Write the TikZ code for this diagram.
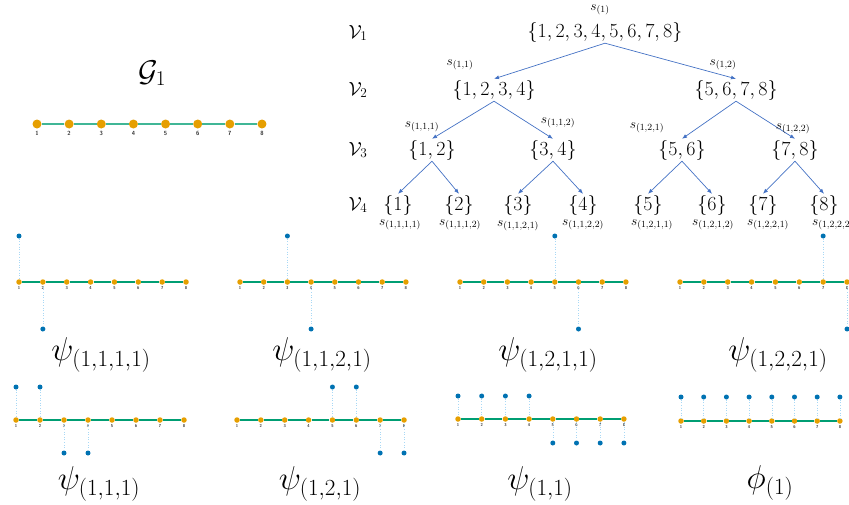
\documentclass[tikz,border=0pt]{standalone}
\usepackage{fix-cm}
\usepackage{amsmath,amssymb}
\usepackage{tikz}
\usetikzlibrary{arrows.meta, positioning}
\definecolor{graphorange}{HTML}{E69F00}
\definecolor{graphblue}{HTML}{0072B2}
\definecolor{graphgreen}{HTML}{009E73}
\definecolor{stemblue}{HTML}{A8D8F5}
\definecolor{treeblue}{HTML}{4472C4}
\tikzset{
  vert/.style={circle, fill=graphorange, inner sep=0pt, minimum size=5.5pt},
  bigvert/.style={circle, fill=graphorange, inner sep=0pt, minimum size=9pt},
  wave/.style={circle, fill=graphblue, inner sep=0pt, minimum size=5pt},
  vlabel/.style={font=\fontsize{4.2}{5}\selectfont\sffamily\bfseries, inner sep=0pt, text=black!80},
  bigvlabel/.style={font=\fontsize{6}{7}\selectfont\sffamily\bfseries, inner sep=0pt, text=black!80},
  gedge/.style={graphgreen, line width=1.2pt},
  bigedge/.style={graphgreen!75!white, line width=2.6pt},
  stem/.style={stemblue, dotted, line width=0.6pt},
  setnode/.style={font=\fontsize{20}{23}\selectfont, inner sep=1pt},
  slabel/.style={font=\fontsize{13.5}{15}\selectfont, inner sep=0pt},
  level/.style={font=\fontsize{19}{22}\selectfont, inner sep=0pt},
  wavelabel/.style={font=\fontsize{33}{37}\selectfont, inner sep=0pt},
  treearrow/.style={-{Latex[length=5pt,width=4pt]}, treeblue, line width=0.7pt}
}
% path graph on 8 vertices: name, first x, spacing, y
\newcommand{\pathgraph}[4]{%
  \foreach \i in {1,...,8} {
    \node[vert] (#1-\i) at ({#2+(\i-1)*#3},#4) {};
    \node[vlabel, below=1pt of #1-\i] (#1-t\i) {\i};
  }
  \foreach \i [count=\j from 2] in {1,...,7}
    \draw[gedge] (#1-\i) -- (#1-\j);
}
% one spike of a wavelet: panel, vertex, offset
\newcommand{\spike}[3]{%
  \path (#1-#2) ++(0,#3) node[wave] (#1-w#2) {};
  \draw[stem] (#1-w#2) -- (#1-#2);
}

\begin{document}
\begin{tikzpicture}[x=1pt, y=-1pt]
  \useasboundingbox (0,0) rectangle (849,504);

  % the graph
  \node[wavelabel, font=\fontsize{30}{34}\selectfont] (gtitle) at (152,73) {$\mathcal{G}_1$};
  \foreach \i in {1,...,8} {
    \node[bigvert] (g-\i) at ({37+(\i-1)*32.14},124) {};
    \node[bigvlabel, below=2pt of g-\i] (g-t\i) {\i};
  }
  \foreach \i [count=\j from 2] in {1,...,7}
    \draw[bigedge] (g-\i) -- (g-\j);

  % levels
  \node[level] (v1) at (358,33) {$\mathcal{V}_1$};
  \node[level] (v2) at (358,90) {$\mathcal{V}_2$};
  \node[level] (v3) at (358,150) {$\mathcal{V}_3$};
  \node[level] (v4) at (358,205) {$\mathcal{V}_4$};

  % partition tree
  \node[setnode] (root) at (605,32) {$\{1,2,3,4,5,6,7,8\}$};
  \node[setnode] (a) at (494,90) {$\{1,2,3,4\}$};
  \node[setnode] (b) at (736,90) {$\{5,6,7,8\}$};
  \node[setnode] (aa) at (432,150) {$\{1,2\}$};
  \node[setnode] (ab) at (553,150) {$\{3,4\}$};
  \node[setnode] (ba) at (682,150) {$\{5,6\}$};
  \node[setnode] (bb) at (795,150) {$\{7,8\}$};
  \node[setnode] (aaa) at (398,205) {$\{1\}$};
  \node[setnode] (aab) at (459,205) {$\{2\}$};
  \node[setnode] (aba) at (518,205) {$\{3\}$};
  \node[setnode] (abb) at (583,205) {$\{4\}$};
  \node[setnode] (baa) at (648,205) {$\{5\}$};
  \node[setnode] (bab) at (712,205) {$\{6\}$};
  \node[setnode] (bba) at (763,205) {$\{7\}$};
  \node[setnode] (bbb) at (824,205) {$\{8\}$};

  \draw[treearrow] (root.south) -- (a.north);
  \draw[treearrow] (root.south) -- (b.north);
  \draw[treearrow] (a.south) -- (aa.north);
  \draw[treearrow] (a.south) -- (ab.north);
  \draw[treearrow] (b.south) -- (ba.north);
  \draw[treearrow] (b.south) -- (bb.north);
  \draw[treearrow] (aa.south) -- (aaa.north);
  \draw[treearrow] (aa.south) -- (aab.north);
  \draw[treearrow] (ab.south) -- (aba.north);
  \draw[treearrow] (ab.south) -- (abb.north);
  \draw[treearrow] (ba.south) -- (baa.north);
  \draw[treearrow] (ba.south) -- (bab.north);
  \draw[treearrow] (bb.south) -- (bba.north);
  \draw[treearrow] (bb.south) -- (bbb.north);

  % scaling labels
  \node[slabel] (s1) at (600,10) {$s_{(1)}$};
  \node[slabel] (s11) at (460,65) {$s_{(1,1)}$};
  \node[slabel] (s12) at (723,65) {$s_{(1,2)}$};
  \node[slabel] (s111) at (422,127) {$s_{(1,1,1)}$};
  \node[slabel] (s112) at (558,123) {$s_{(1,1,2)}$};
  \node[slabel] (s121) at (647,128) {$s_{(1,2,1)}$};
  \node[slabel] (s122) at (793,129) {$s_{(1,2,2)}$};
  \node[slabel] (s1111) at (400,225) {$s_{(1,1,1,1)}$};
  \node[slabel] (s1112) at (460,225) {$s_{(1,1,1,2)}$};
  \node[slabel] (s1121) at (518,226) {$s_{(1,1,2,1)}$};
  \node[slabel] (s1122) at (583,225) {$s_{(1,1,2,2)}$};
  \node[slabel] (s1211) at (652,225) {$s_{(1,2,1,1)}$};
  \node[slabel] (s1212) at (713,225) {$s_{(1,2,1,2)}$};
  \node[slabel] (s1221) at (768,225) {$s_{(1,2,2,1)}$};
  \node[slabel] (s1222) at (833,225) {$s_{(1,2,2,2)}$};

  % finest wavelets
  \pathgraph{p1111}{19}{23.86}{282}
  \spike{p1111}{1}{-46} \spike{p1111}{2}{47}
  \node[wavelabel] (l1111) at (101,355) {$\psi_{(1,1,1,1)}$};

  \pathgraph{p1121}{240}{23.7}{282}
  \spike{p1121}{3}{-46} \spike{p1121}{4}{47}
  \node[wavelabel] (l1121) at (322,355) {$\psi_{(1,1,2,1)}$};

  \pathgraph{p1211}{460}{23.7}{282}
  \spike{p1211}{5}{-46} \spike{p1211}{6}{47}
  \node[wavelabel] (l1211) at (548,355) {$\psi_{(1,2,1,1)}$};

  \pathgraph{p1221}{680}{23.86}{282}
  \spike{p1221}{7}{-46} \spike{p1221}{8}{47}
  \node[wavelabel] (l1221) at (778,355) {$\psi_{(1,2,2,1)}$};

  % coarser wavelets and scaling function
  \pathgraph{p111}{16}{24}{420}
  \foreach \v in {1,2} {\spike{p111}{\v}{-33}}
  \foreach \v in {3,4} {\spike{p111}{\v}{33}}
  \node[wavelabel] (l111) at (99,484) {$\psi_{(1,1,1)}$};

  \pathgraph{p121}{237}{23.86}{420}
  \foreach \v in {5,6} {\spike{p121}{\v}{-33}}
  \foreach \v in {7,8} {\spike{p121}{\v}{33}}
  \node[wavelabel] (l121) at (320,484) {$\psi_{(1,2,1)}$};

  \pathgraph{p11}{458}{23.7}{419}
  \foreach \v in {1,...,4} {\spike{p11}{\v}{-23}}
  \foreach \v in {5,...,8} {\spike{p11}{\v}{24}}
  \node[wavelabel] (l11) at (540,484) {$\psi_{(1,1)}$};

  \pathgraph{p1}{681}{22.7}{421}
  \foreach \v in {1,...,8} {\spike{p1}{\v}{-24}}
  \node[wavelabel] (l1) at (770,483) {$\phi_{(1)}$};
\end{tikzpicture}
\end{document}
